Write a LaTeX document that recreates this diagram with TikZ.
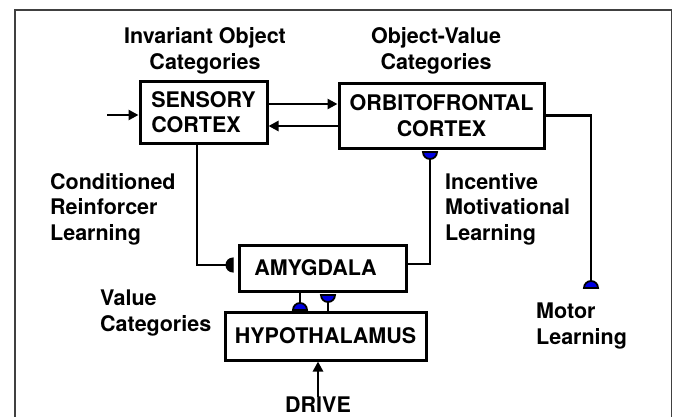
\documentclass[tikz,border=0pt]{standalone}
\usepackage{fontspec}
\setmainfont{TeX Gyre Heros}
\usetikzlibrary{arrows.meta,calc}
\definecolor{synblue}{RGB}{0,0,225}
\tikzset{
  x=1pt,y=-1pt,
  box/.style={draw,line width=3pt,inner sep=0pt,align=center,font=\fontsize{21.5}{25.5}\selectfont\bfseries},
  lbl/.style={inner sep=0pt,font=\fontsize{21.5}{25.5}\selectfont\bfseries},
  conn/.style={line width=2.9pt},
  arr/.style={line width=2.9pt,-{Triangle[length=10pt,width=10pt]}},
  syn/.style={draw=black,fill=synblue,line width=1.8pt},
  synk/.style={draw=black,fill=black,line width=1pt}
}
\begin{document}
\begin{tikzpicture}
\useasboundingbox (0,0) rectangle (673,416);
\draw[line width=1.6pt,black!75] (15,440) -- (15,10) -- (671.5,10) -- (671.5,440);

% boxes
\node[box,minimum width=127pt,minimum height=62pt,align=left] (sens) at (203.5,112) {SENSORY\\CORTEX};
\node[box,minimum width=205pt,minimum height=65pt] (orb) at (441.5,115.5) {ORBITOFRONTAL\\CORTEX};
\node[box,minimum width=167pt,minimum height=46pt] (amy) at (322.5,268) {\hspace*{-14pt}AMYGDALA};
\node[box,minimum width=201pt,minimum height=48pt] (hyp) at (325.5,336) {HYPOTHALAMUS};

% labels
\node[lbl,align=center] (l1) at (205,51) {Invariant Object\\Categories};
\node[lbl,align=center] (l2) at (436,51) {Object-Value\\Categories};
\node[lbl,align=left,anchor=west] (l3) at (50,209) {Conditioned\\Reinforcer\\Learning};
\node[lbl,align=left,anchor=west] (l4) at (445,209) {Incentive\\Motivational\\Learning};
\node[lbl,align=left,anchor=west] (l5) at (100,313) {Value\\Categories};
\node[lbl,align=left,anchor=west] (l6) at (536,326) {Motor\\Learning};
\node[lbl,anchor=base] (drive) at (318,412.5) {DRIVE};

% input arrow
\coordinate (inp) at (107,115);
\draw[arr] (inp) -- (inp -| sens.west);

% sensory <-> orbitofrontal
\coordinate (s1) at (sens.east |- 0,104);
\draw[arr] (s1) -- (s1 -| orb.west);
\coordinate (o1) at (orb.west |- 0,126);
\draw[arr] (o1) -- (o1 -| sens.east);

% sensory -> amygdala (conditioned reinforcer)
\coordinate (sd) at (197,0);
\coordinate (k1) at (226,265);
\draw[conn] (sd |- sens.south) -- (sd |- k1) -- (k1);
\filldraw[synk] (233,258) arc[start angle=-90,end angle=-270,radius=7] -- cycle;

% amygdala -> orbitofrontal (incentive motivational)
\coordinate (ib) at (430,159);
\coordinate (ia) at (amy.east |- 0,264);
\draw[conn] (ib) -- (ib |- ia) -- (ia);
\filldraw[syn] (423,152) -- (437,152) arc[start angle=0,end angle=180,radius=7] -- cycle;

% orbitofrontal -> motor learning
\coordinate (mt) at (591,281);
\draw[conn] (orb.east) -- (orb.east -| mt) -- (mt);
\filldraw[syn] (584,288) -- (598,288) arc[start angle=0,end angle=-180,radius=7] -- cycle;

% amygdala <-> hypothalamus
\coordinate (ah) at (300,303);
\draw[conn] (ah |- amy.south) -- (ah);
\filldraw[syn] (293,310) -- (307,310) arc[start angle=0,end angle=-180,radius=7] -- cycle;
\coordinate (ha) at (328,302);
\draw[conn] (ha |- hyp.north) -- (ha);
\filldraw[syn] (321,295) -- (335,295) arc[start angle=0,end angle=180,radius=7] -- cycle;

% drive
\draw[arr] (drive.north) -- (drive.north |- hyp.south);
\end{tikzpicture}
\end{document}
